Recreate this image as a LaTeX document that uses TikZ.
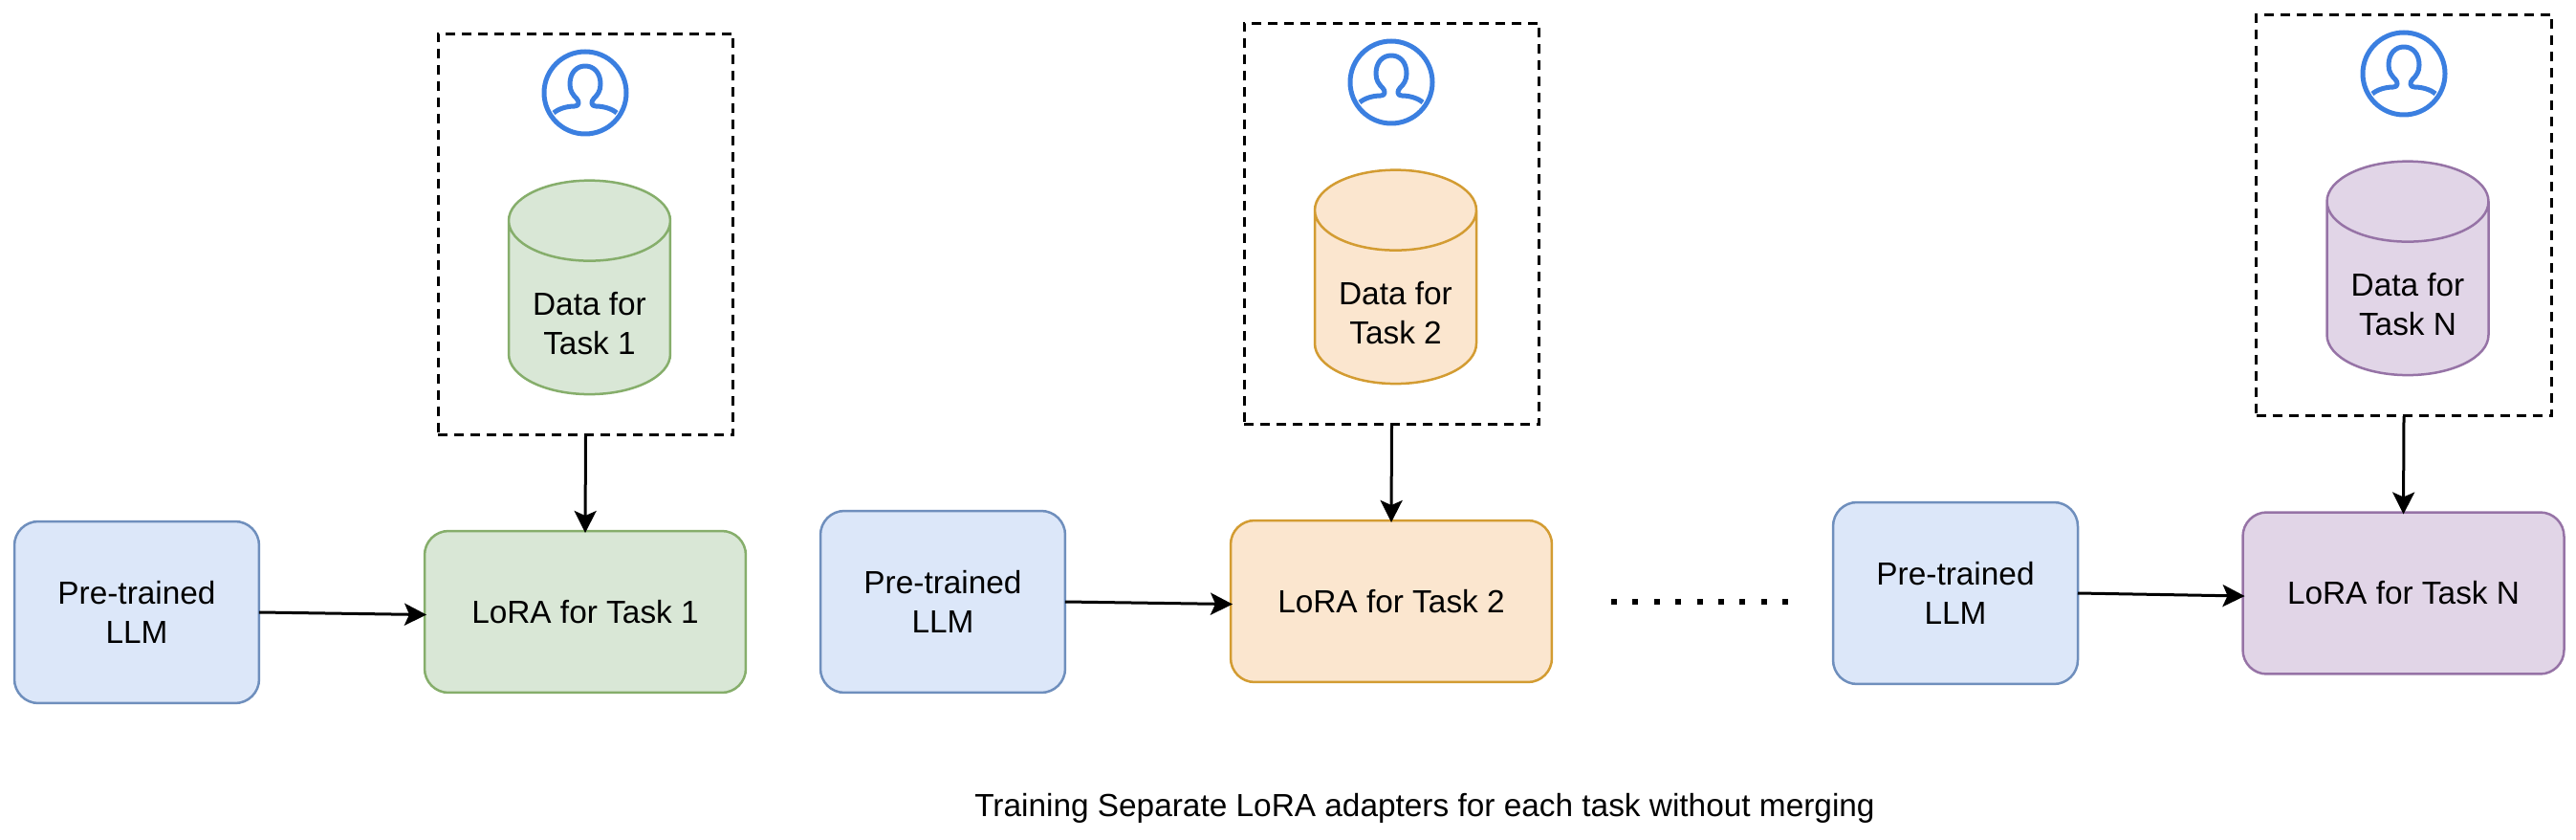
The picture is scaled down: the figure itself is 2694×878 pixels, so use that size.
\documentclass[tikz,border=0pt]{standalone}
\usepackage{fontspec}
\setmainfont{Liberation Sans}
\usetikzlibrary{arrows.meta,shapes.geometric}
\definecolor{bluefill}{HTML}{DCE7F9}
\definecolor{blueline}{HTML}{6F8FBD}
\definecolor{greenfill}{HTML}{D9E7D6}
\definecolor{greenline}{HTML}{86AE6B}
\definecolor{orangefill}{HTML}{FBE6CF}
\definecolor{orangeline}{HTML}{D39C32}
\definecolor{purplefill}{HTML}{E1D5E7}
\definecolor{purpleline}{HTML}{9673A6}
\definecolor{iconblue}{HTML}{3B7FE0}
\newcommand{\capstrut}{\phantom{\rule{2.4cm}{1.6cm}}}
\tikzset{
	every node/.style={font=\fontsize{19}{23}\selectfont, align=center, inner sep=0pt, outer sep=0pt},
	llmbox/.style={draw=blueline, fill=bluefill, line width=0.05cm, rounded corners=0.5cm, minimum width=5.12cm, minimum height=3.8cm},
	lorabox/.style={draw=#1line, fill=#1fill, line width=0.05cm, rounded corners=0.5cm, minimum width=6.72cm, minimum height=3.38cm},
	databox/.style={draw=#1line, fill=#1fill, line width=0.05cm, shape=cylinder, shape border rotate=90, aspect=0.7, minimum width=3.38cm, minimum height=4.47cm},
	taskbox/.style={draw, line width=0.06cm, dash pattern=on 0.2cm off 0.14cm, minimum width=6.18cm, minimum height=8.4cm},
	link/.style={-{Stealth[length=0.46cm, width=0.46cm, inset=0.1cm]}, line width=0.06cm, shorten >=-0.04cm},
	person/.pic={
		\draw[iconblue, line width=0.1cm] (0,0) circle (43);
		\draw[iconblue, line width=0.1cm, line join=round] (-33,21) .. controls (-27,16) and (-18,14) .. (-11,14)
			.. controls (-6,14) and (-6,9) .. (-9,6) .. controls (-13,2) and (-16,-2) .. (-16,-9)
			.. controls (-16,-21) and (-9,-28) .. (0,-28) .. controls (9,-28) and (16,-21) .. (16,-9)
			.. controls (16,-2) and (13,2) .. (9,6) .. controls (6,9) and (6,14) .. (11,14)
			.. controls (18,14) and (27,16) .. (33,21);
	}
}
\begin{document}
\begin{tikzpicture}[x=0.02cm, y=-0.02cm]
	\useasboundingbox (0,0) rectangle (2694,878);
	% task 1
	\node[taskbox] (box1) at (612.5,245) {};
	\pic at (612,97) {person};
	\node[databox=green] (data1) at (616.5,322) {\capstrut};
	\node (text1) at (616.5,338) {Data for\\Task 1};
	\node[llmbox] (llm1) at (143,640) {Pre-trained\\LLM};
	\node[lorabox=green] (lora1) at (612,639.5) {LoRA for Task 1};
	\draw[link] (llm1.east) -- ([yshift=-0.06cm]lora1.west);
	\draw[link] (box1.south) -- (lora1.north);
	% task 2
	\node[taskbox] (box2) at (1455.5,234) {};
	\pic at (1455,86) {person};
	\node[databox=orange] (data2) at (1459.5,311) {\capstrut};
	\node (text2) at (1459.5,327) {Data for\\Task 2};
	\node[llmbox] (llm2) at (986,629) {Pre-trained\\LLM};
	\node[lorabox=orange] (lora2) at (1455,628.5) {LoRA for Task 2};
	\draw[link] (llm2.east) -- ([yshift=-0.06cm]lora2.west);
	\draw[link] (box2.south) -- (lora2.north);
	% dots between task 2 and task N
	\coordinate (dotsa) at (1685,628.5);
	\coordinate (dotsb) at (1871,628.5);
	\draw[line width=0.12cm, dash pattern=on 0.12cm off 0.328cm] (dotsa) -- (dotsb);
	% task N
	\node[taskbox] (box3) at (2514,225) {};
	\pic at (2514,77) {person};
	\node[databox=purple] (data3) at (2518,302) {\capstrut};
	\node (text3) at (2518,318) {Data for\\Task N};
	\node[llmbox] (llm3) at (2045,620) {Pre-trained\\LLM};
	\node[lorabox=purple] (lora3) at (2513.5,620) {LoRA for Task N};
	\draw[link] (llm3.east) -- ([yshift=-0.06cm]lora3.west);
	\draw[link] (box3.south) -- (lora3.north);
	\node (caption) at (1490,845) {Training Separate LoRA adapters for each task without merging};
\end{tikzpicture}
\end{document}
